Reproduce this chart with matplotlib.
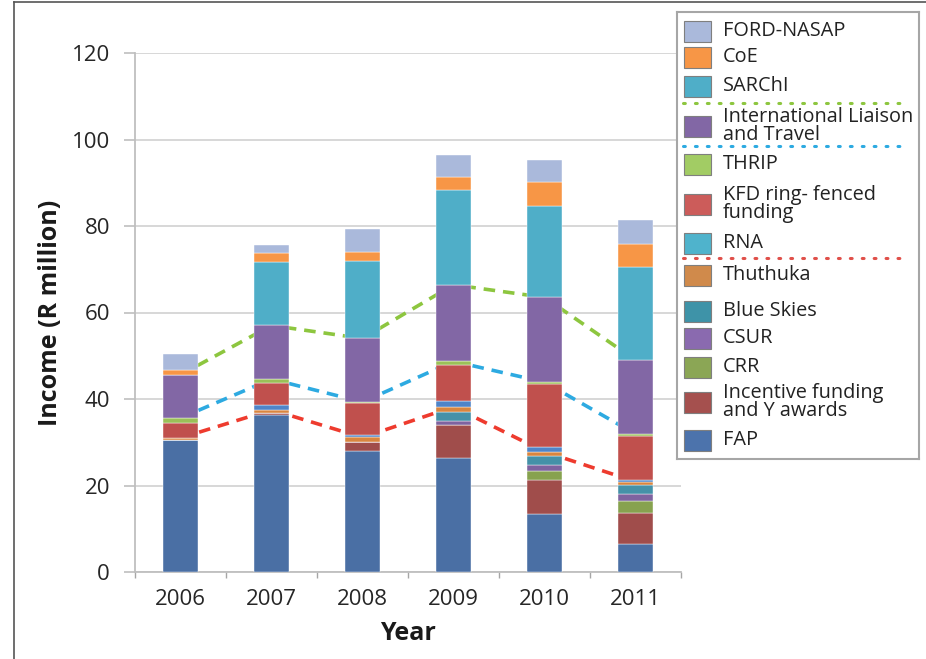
import numpy as np
import matplotlib.pyplot as plt
from matplotlib.patches import Rectangle
from matplotlib.lines import Line2D

plt.rcParams['font.family'] = ['Open Sans', 'DejaVu Sans']

years = ['2006', '2007', '2008', '2009', '2010', '2011']

# stacked segments, bottom to top (R million)
fap        = [30.5, 36.2, 28.0, 26.4, 13.3, 6.5]
incentive  = [0.0, 0.6, 2.1, 7.6, 8.0, 7.1]
crr        = [0.0, 0.0, 0.0, 0.0, 2.1, 2.9]
csur       = [0.0, 0.0, 0.0, 0.8, 1.3, 1.5]
blue_skies = [0.0, 0.0, 0.0, 2.3, 2.2, 2.1]
thuthuka   = [0.5, 0.7, 1.0, 1.1, 0.9, 0.8]
rna        = [0.0, 1.0, 0.6, 1.3, 1.0, 0.4]
kfd        = [3.5, 5.2, 7.3, 8.4, 14.6, 10.2]
thrip      = [1.1, 0.9, 0.3, 0.8, 0.5, 0.4]
intl       = [10.0, 12.4, 14.7, 17.7, 19.6, 17.1]
sarchi     = [0.0, 14.7, 17.8, 22.0, 21.1, 21.6]
coe        = [1.0, 2.1, 2.2, 3.0, 5.6, 5.3]
ford       = [3.7, 1.8, 5.2, 5.0, 5.1, 5.5]

series = [
    ('FAP', fap, '#4A6FA4'),
    ('Incentive funding\nand Y awards', incentive, '#A04D4B'),
    ('CRR', crr, '#87A24F'),
    ('CSUR', csur, '#7E63A0'),
    ('Blue Skies', blue_skies, '#4591A8'),
    ('Thuthuka', thuthuka, '#D9853F'),
    ('RNA', rna, '#4F84C8'),
    ('KFD ring- fenced\nfunding', kfd, '#C0504D'),
    ('THRIP', thrip, '#9BC058'),
    ('International Liaison\nand Travel', intl, '#8267A5'),
    ('SARChI', sarchi, '#4FAEC8'),
    ('CoE', coe, '#F79646'),
    ('FORD-NASAP', ford, '#AAB9DB'),
]

fig = plt.figure(figsize=(9.26, 6.59), dpi=100)
W, H = 926, 659
ax = fig.add_axes([135 / W, 1 - 572 / H, (681 - 135) / W, (572 - 53) / H])

x = np.arange(len(years))
bottom = np.zeros(len(years))
tops = {}
for name, vals, col in series:
    ax.bar(x, vals, 0.38, bottom=bottom, color=col, zorder=3,
           edgecolor='white', linewidth=0.3)
    bottom = bottom + np.array(vals)
    tops[name] = bottom.copy()

# dashed guide lines joining segment tops
dash = dict(linestyle=(0, (3.2, 2.2)), linewidth=2.6, zorder=2)
ax.plot(x, tops['Thuthuka'], color='#EE3B2E', **dash)
ax.plot(x, tops['THRIP'], color='#2DAAE1', **dash)
ax.plot(x, tops['International Liaison\nand Travel'], color='#8DC63F', **dash)

ax.set_xlim(-0.5, len(years) - 0.5)
ax.set_ylim(0, 120)
ax.set_yticks(np.arange(0, 121, 20))
ax.set_xticks(x)
ax.set_xticklabels(years)
ax.set_xticks(np.arange(-0.5, len(years), 1), minor=True)
ax.tick_params(axis='x', which='major', length=0, pad=12, labelsize=16, labelcolor='#262626')
ax.tick_params(axis='x', which='minor', length=4, color='#A6A6A6', width=1)
ax.tick_params(axis='y', length=8, color='#BFBFBF', width=1.2, pad=10,
               labelsize=16, labelcolor='#262626')
ax.grid(axis='y', color='#D4D4D4', linewidth=1.3, zorder=0)
for s in ['top', 'right']:
    ax.spines[s].set_visible(False)
for s in ['left', 'bottom']:
    ax.spines[s].set_color('#BFBFBF')
    ax.spines[s].set_linewidth(1.3)
ax.set_ylabel('Income (R million)', fontsize=18, fontweight='bold', labelpad=6,
              color='#1A1A1A')
ax.set_xlabel('Year', fontsize=18, fontweight='bold', labelpad=8, color='#1A1A1A')

# hand-built legend (pixel coordinates, y measured from the top)
lax = fig.add_axes([677 / W, 1 - 459 / H, (919 - 677) / W, (459 - 12) / H])
lax.set_xlim(677, 919)
lax.set_ylim(459, 12)
lax.set_xticks([])
lax.set_yticks([])
for s in lax.spines.values():
    s.set_color('#A6A6A6')
    s.set_linewidth(1.5)

legend_rows = [
    ('FORD-NASAP', 31, '#AAB9DB'),
    ('CoE', 57, '#F79646'),
    ('SARChI', 86, '#4FAEC8'),
    ('International Liaison\nand Travel', 126, '#8267A5'),
    ('THRIP', 164, '#A2CC64'),
    ('KFD ring- fenced\nfunding', 204, '#CC5C5A'),
    ('RNA', 243, '#4FB3CC'),
    ('Thuthuka', 275, '#D08A4B'),
    ('Blue Skies', 311, '#3E93A8'),
    ('CSUR', 338, '#8A6AAF'),
    ('CRR', 367, '#8BA655'),
    ('Incentive funding\nand Y awards', 402, '#A5504E'),
    ('FAP', 440, '#4C73AC'),
]
for label, yc, col in legend_rows:
    lax.add_patch(Rectangle((684, yc - 10.5), 27, 21, facecolor=col,
                            edgecolor='#7F7F7F', linewidth=0.8))
    lax.text(723, yc, label, fontsize=14.3, color='#222222', va='center',
             ha='left', linespacing=0.85)

for yl, col in [(103, '#8DC63F'), (146, '#2DAAE1'), (258, '#E0504A')]:
    lax.add_line(Line2D([683, 904], [yl, yl], color=col, linewidth=2.2,
                        linestyle=(0, (0.6, 3.3)), solid_capstyle='round',
                        dash_capstyle='round'))

# outer frame of the figure panel
fig.add_artist(Line2D([14 / W, 14 / W], [0, 1 - 2 / H], color='#555555', linewidth=1.2))
fig.add_artist(Line2D([14 / W, 1], [1 - 2 / H, 1 - 2 / H], color='#555555', linewidth=1.2))

fig.savefig('out.png', dpi=100)
